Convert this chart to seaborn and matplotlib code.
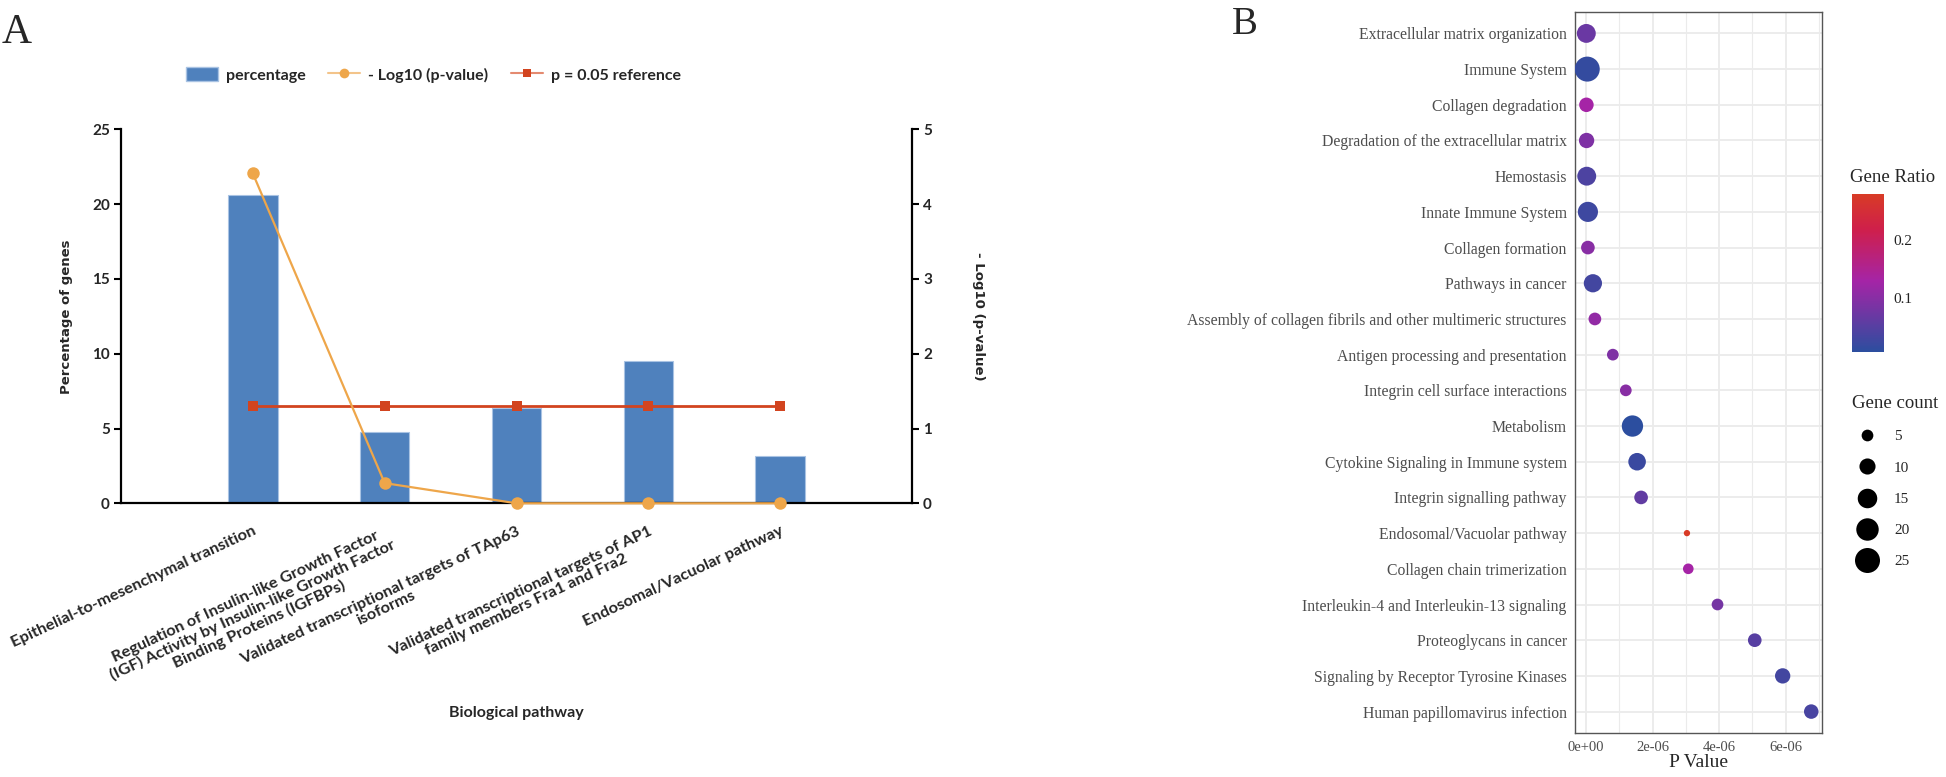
import numpy as np
import pandas as pd
import matplotlib
matplotlib.use("Agg")
import matplotlib.pyplot as plt
import seaborn as sns
from matplotlib.colors import LinearSegmentedColormap, Normalize
from matplotlib.cm import ScalarMappable
from matplotlib.lines import Line2D
from matplotlib.patches import Patch
from matplotlib.ticker import FixedLocator, MultipleLocator

# ---------------- Panel A data ----------------
pathways_a = [
    "Epithelial-to-mesenchymal transition",
    "Regulation of Insulin-like Growth Factor\n(IGF) Activity by Insulin-like Growth Factor\nBinding Proteins (IGFBPs)",
    "Validated transcriptional targets of TAp63\nisoforms",
    "Validated transcriptional targets of AP1\nfamily members Fra1 and Fra2",
    "Endosomal/Vacuolar pathway",
]
percentage = [20.63, 4.76, 6.35, 9.52, 3.17]
neg_log10_p = [4.41, 0.27, 0.0, 0.0, 0.0]
p_ref = [1.30, 1.30, 1.30, 1.30, 1.30]
left_ticks_a = [0, 5, 10, 15, 20, 25]
right_ticks_a = [0, 1, 2, 3, 4, 5]

# ---------------- Panel B data ----------------
terms_b = [
    "Extracellular matrix organization",
    "Immune System",
    "Collagen degradation",
    "Degradation of the extracellular matrix",
    "Hemostasis",
    "Innate Immune System",
    "Collagen formation",
    "Pathways in cancer",
    "Assembly of collagen fibrils and other multimeric structures",
    "Antigen processing and presentation",
    "Integrin cell surface interactions",
    "Metabolism",
    "Cytokine Signaling in Immune system",
    "Integrin signalling pathway",
    "Endosomal/Vacuolar pathway",
    "Collagen chain trimerization",
    "Interleukin-4 and Interleukin-13 signaling",
    "Proteoglycans in cancer",
    "Signaling by Receptor Tyrosine Kinases",
    "Human papillomavirus infection",
]
p_values = [2.0e-9, 3.0e-8, 5.0e-9, 1.0e-8, 1.5e-8, 5.0e-8, 5.0e-8, 2.0e-7, 2.6e-7,
            8.0e-7, 1.19e-6, 1.39e-6, 1.53e-6, 1.65e-6, 3.03e-6, 3.07e-6, 3.95e-6,
            5.07e-6, 5.91e-6, 6.77e-6]
gene_ratio = [0.07, 0.015, 0.13, 0.09, 0.04, 0.025, 0.10, 0.03, 0.11, 0.09,
              0.10, 0.006, 0.02, 0.06, 0.28, 0.13, 0.08, 0.05, 0.03, 0.035]
gene_count = [14, 25, 8, 9, 14, 16, 7, 13, 6, 5, 5, 18, 12, 7, 1, 4, 5, 7, 9, 8]
size_legend_counts = [5, 10, 15, 20, 25]
ratio_ticks = [0.1, 0.2]
x_ticks_b = [0, 2e-6, 4e-6, 6e-6]
x_tick_labels_b = ["0e+00", "2e-06", "4e-06", "6e-06"]

# ---------------- style ----------------
sns.set_style("white")
SANS = ["Lato", "DejaVu Sans"]
SERIF = ["Liberation Serif", "DejaVu Serif"]
plt.rcParams["font.family"] = SANS

BAR_C = "#4F81BD"
ORANGE = "#EEA64A"
RED = "#D2441F"

W, H = 1946, 777
fig = plt.figure(figsize=(W / 100, H / 100), dpi=100)

def fx(px):
    return px / W

def fy(py):
    return 1 - py / H

# ================= Panel A =================
axA = fig.add_axes([fx(121), fy(503.3), fx(912 - 121), (503.3 - 129.3) / H])
sns.barplot(x=pathways_a, y=percentage, ax=axA, color=BAR_C, width=0.376,
            edgecolor="#A9C3E3", linewidth=0.8, saturation=1)
axA.set_xlim(-1, 5)
axA.set_ylim(0, 25)
axA.set_yticks(left_ticks_a)
for s in ["top", "right"]:
    axA.spines[s].set_visible(False)
for s in ["left", "bottom"]:
    axA.spines[s].set_linewidth(1.6)
    axA.spines[s].set_color("black")
axA.tick_params(axis="both", direction="out", length=5, width=1.5, color="black")
axA.tick_params(axis="y", labelsize=11, pad=3)
axA.tick_params(axis="x", pad=10)
for lab in axA.get_yticklabels():
    lab.set_fontweight("bold")
    lab.set_family(SANS)
for lab in axA.get_xticklabels():
    lab.set_rotation(25)
    lab.set_ha("right")
    lab.set_va("top")
    lab.set_rotation_mode("anchor")
    lab.set_fontweight("bold")
    lab.set_fontsize(11.8)
    lab.set_multialignment("center")
    lab.set_family(SANS)
    lab.set_linespacing(1.05)
axA.set_xlabel("")
axA.set_ylabel("Percentage of genes", fontsize=9.5, fontweight="bold",
               family=["DejaVu Sans"], labelpad=14)

ax2 = axA.twinx()
ax2.set_ylim(0, 5)
ax2.set_yticks(right_ticks_a)
for s in ["top", "left", "bottom"]:
    ax2.spines[s].set_visible(False)
ax2.spines["right"].set_linewidth(1.6)
ax2.spines["right"].set_color("black")
ax2.tick_params(axis="y", direction="out", length=5, width=1.5, color="black",
                labelsize=11, pad=3)
for lab in ax2.get_yticklabels():
    lab.set_fontweight("bold")
    lab.set_family(SANS)
xpos = np.arange(len(pathways_a))
sns.lineplot(x=xpos, y=neg_log10_p, ax=ax2, color=ORANGE, marker="o", markersize=9,
             markeredgewidth=0, linewidth=1.6, clip_on=False, sort=False, zorder=5)
sns.lineplot(x=xpos, y=p_ref, ax=ax2, color=RED, marker="s", markersize=7.5,
             markeredgewidth=0, linewidth=2.0, clip_on=False, sort=False, zorder=4)
ax2.set_xlim(-1, 5)
ax2.set_ylabel("- Log10 (p-value)", fontsize=9.5, fontweight="bold",
               family=["DejaVu Sans"], rotation=270, labelpad=38)

fig.text(fx(516.5), fy(713), "Biological pathway", ha="center", va="center",
         fontsize=11.5, fontweight="bold", family=SANS)

legA_handles = [
    Patch(facecolor=BAR_C, edgecolor="#A9C3E3", label="percentage"),
    Line2D([0], [0], color="#F3C48A", marker="o", markerfacecolor=ORANGE,
           markeredgewidth=0, markersize=7, linewidth=1.5, label="- Log10 (p-value)"),
    Line2D([0], [0], color="#E48A70", marker="s", markerfacecolor=RED,
           markeredgewidth=0, markersize=6, linewidth=1.5, label="p = 0.05 reference"),
]
fig.legend(handles=legA_handles, loc="center left", bbox_to_anchor=(fx(172), fy(75)),
           ncol=3, frameon=False, handlelength=2.0, handleheight=1.0,
           handletextpad=0.5, columnspacing=1.4,
           prop={"family": SANS, "weight": "bold", "size": 11.5})

fig.text(fx(2), fy(43), "A", family=SERIF, fontsize=30, va="baseline", ha="left")

# ================= Panel B =================
cmap = LinearSegmentedColormap.from_list(
    "generatio", [(0.0, "#2C4E9F"), (0.45, "#A524A6"), (0.78, "#CF1F4A"), (1.0, "#D83B26")])
rmin, rmax = min(gene_ratio), max(gene_ratio)
norm = Normalize(vmin=rmin, vmax=rmax)
cmin, cmax = min(gene_count), max(gene_count)
s_lo, s_hi = 20.6, 324.0

dfB = pd.DataFrame({"term": terms_b, "p": p_values, "ratio": gene_ratio, "count": gene_count})
axB = fig.add_axes([fx(1575), fy(733), fx(1822.5 - 1575), (733 - 12) / H])
axB.set_axisbelow(True)
sns.scatterplot(data=dfB, x="p", y="term", hue="ratio", size="count",
                palette=cmap, hue_norm=norm, sizes=(s_lo, s_hi), size_norm=(cmin, cmax),
                legend=False, ax=axB, edgecolor="none", linewidth=0, zorder=3)
span = max(p_values) - 0
axB.set_xlim(-0.05 * span, max(p_values) + 0.05 * span)
axB.set_ylim(len(terms_b) - 0.4, -0.6)
axB.xaxis.set_major_locator(FixedLocator(x_ticks_b))
axB.set_xticklabels(x_tick_labels_b)
axB.xaxis.set_minor_locator(MultipleLocator(1e-6))
axB.grid(True, which="major", color="#EBEBEB", linewidth=1.3)
axB.grid(True, which="minor", axis="x", color="#EBEBEB", linewidth=0.8)
for s in axB.spines.values():
    s.set_visible(True)
    s.set_color("#555555")
    s.set_linewidth(1.0)
axB.tick_params(axis="both", which="major", direction="out", length=4, width=1.0,
                color="#333333", labelcolor="#4D4D4D")
axB.tick_params(axis="x", which="minor", length=0)
axB.tick_params(axis="y", labelsize=11.3, pad=2)
axB.tick_params(axis="x", labelsize=10.5, pad=2)
for lab in axB.get_yticklabels() + axB.get_xticklabels():
    lab.set_family(SERIF)
axB.set_ylabel("")
axB.set_xlabel("P Value", family=SERIF, fontsize=14, labelpad=0)
axB.set_xticklabels(x_tick_labels_b, family=SERIF, fontsize=10.5)

# colorbar
fig.text(fx(1850), fy(177), "Gene Ratio", family=SERIF, fontsize=13.5, va="center", ha="left")
cax = fig.add_axes([fx(1852), fy(352), fx(32), 158 / H])
cb = fig.colorbar(ScalarMappable(norm=norm, cmap=cmap), cax=cax)
cb.outline.set_visible(False)
cb.set_ticks(ratio_ticks)
cb.minorticks_off()
cax.yaxis.set_ticks_position("both")
cax.tick_params(axis="y", which="major", direction="in", length=5, width=0.8,
                color="white", labelsize=11, labelcolor="#222222",
                left=True, right=True, labelleft=False, labelright=True, pad=7)
for lab in cax.get_yticklabels():
    lab.set_family(SERIF)

# size legend
def size_of(c):
    return s_lo + (s_hi - s_lo) * (c - cmin) / (cmax - cmin)

size_handles = [Line2D([0], [0], linestyle="none", marker="o", color="black",
                       markersize=np.sqrt(size_of(c)), markeredgewidth=0, label=str(c))
                for c in size_legend_counts]
fig.legend(handles=size_handles, title="Gene count", loc="upper left",
           bbox_to_anchor=(fx(1846), fy(389)), frameon=False, alignment="left",
           labelspacing=1.15, handletextpad=0.75, borderaxespad=0,
           prop={"family": SERIF, "size": 11},
           title_fontproperties={"family": SERIF, "size": 13.5})

fig.text(fx(1232), fy(34), "B", family=SERIF, fontsize=28, va="baseline", ha="left")

fig.savefig("out.png", dpi=100)
